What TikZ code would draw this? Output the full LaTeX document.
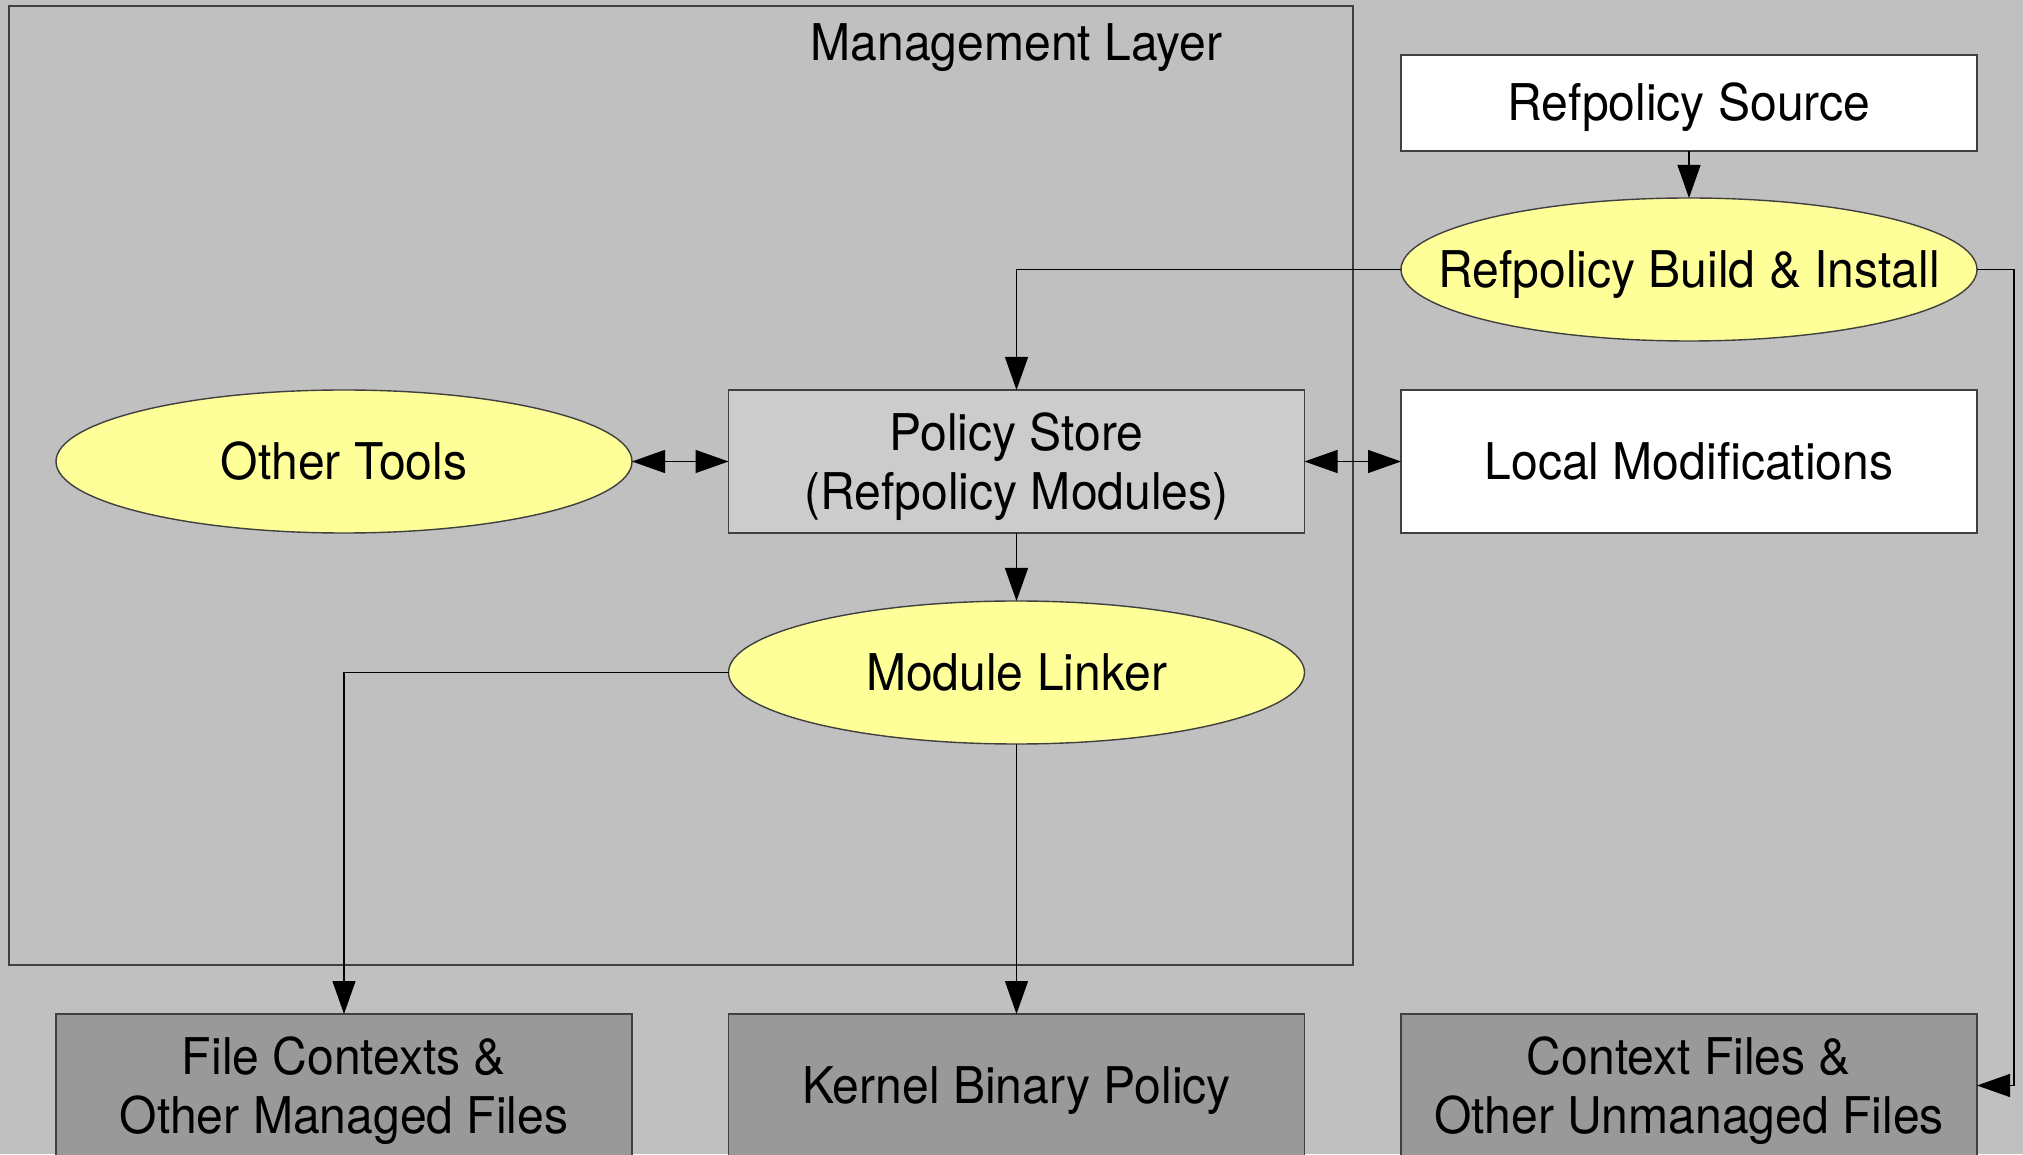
\documentclass[tikz,border=0pt]{standalone}
\usepackage{fontspec}
\setmainfont{TeX Gyre Heros}[FakeStretch=0.95]
\usepackage{tikz}
\usetikzlibrary{arrows.meta,calc,positioning,shapes.geometric}
\definecolor{canvas}{HTML}{C0C0C0}
\definecolor{procyellow}{HTML}{FFFF99}
\definecolor{storegray}{HTML}{CCCCCC}
\definecolor{outgray}{HTML}{999999}
\newdimen\hdim
\newdimen\wdim
\newdimen\odim
\hdim=1.43cm
\wdim=5.76cm
\odim=.965cm
% strut that centres two-line labels on their capitals
\newcommand{\capstrut}{\rule{0pt}{13.4pt}}
\tikzstyle{element}=[
  draw=black!75,
  font={\fontsize{14.4}{16.8}\selectfont},
  inner sep=0pt,
  minimum height=\hdim,
  minimum width=\wdim,
  outer sep=0pt,
  line width=.4pt,
]
\tikzstyle{oneline}=[
  text height=10.2pt,
  text depth=0pt,
]
\tikzstyle{process}=[element, oneline, ellipse, inner xsep=-1.2cm, fill=procyellow]
\tikzstyle{plainbox}=[element, oneline, rectangle, fill=white]
\tikzstyle{storebox}=[element, rectangle, align=center, fill=storegray]
\tikzstyle{outbox}=[element, rectangle, align=center, fill=outgray]
\tikzstyle{layer}=[
  draw=black!75,
  line width=.4pt,
  inner sep=0pt,
  outer sep=0pt,
]
\tikzstyle{arrow}=[
  draw=black,
  line width=.35pt,
]
\tikzset{
  >={Triangle[length=.33cm,width=.23cm]},
}

\begin{document}
\begin{tikzpicture}
  \fill [canvas] (0,0) rectangle (20.23,11.54);
  \useasboundingbox (0,0) rectangle (20.23,11.54);
  \clip (0,0) rectangle (20.23,11.54);
  %%
  \node (mgmt) [layer, anchor=north west, minimum width=13.44cm,
    minimum height=9.59cm] at (.09,11.48) {};
  \node (store) [storebox] at (10.165,6.925) {\capstrut Policy Store\\(Refpolicy Modules)};
  \node (mgmtlabel) [anchor=base, font={\fontsize{14.4}{16.8}\selectfont}]
    at ($(store|-mgmt.north)+(0,-.55)$) {Management Layer};
  \node (tools) [process, left=\odim of store] {Other Tools};
  \node (localmods) [plainbox, right=\odim of store] {Local Modifications};
  \node (build) [process, above=.49cm of localmods] {Refpolicy Build \& Install};
  \node (source) [plainbox, minimum height=.96cm, above=.47cm of build] {Refpolicy Source};
  \node (linker) [process, below=.68cm of store] {Module Linker};
  %%
  \node (kernel) [outbox, oneline, below=2.7cm of linker] {Kernel Binary Policy};
  \node (filectx) [outbox, left=\odim of kernel] {\capstrut File Contexts \&\\Other Managed Files};
  \node (ctxfiles) [outbox, right=\odim of kernel] {\capstrut Context Files \&\\Other Unmanaged Files};
  %%
  \draw [->, arrow] (source) -- (build);
  \draw [->, arrow] (build.west) -| (store.north);
  \coordinate (R) at ($(build.east)+(.37,0)$);
  \draw [->, arrow] (build.east) -- (R) |- (ctxfiles.east);
  \draw [<->, arrow] (tools) -- (store);
  \draw [<->, arrow] (store) -- (localmods);
  \draw [->, arrow] (store) -- (linker);
  \draw [->, arrow] (linker.west) -| (filectx.north);
  \draw [->, arrow] (linker) -- (kernel);
\end{tikzpicture}
\end{document}
